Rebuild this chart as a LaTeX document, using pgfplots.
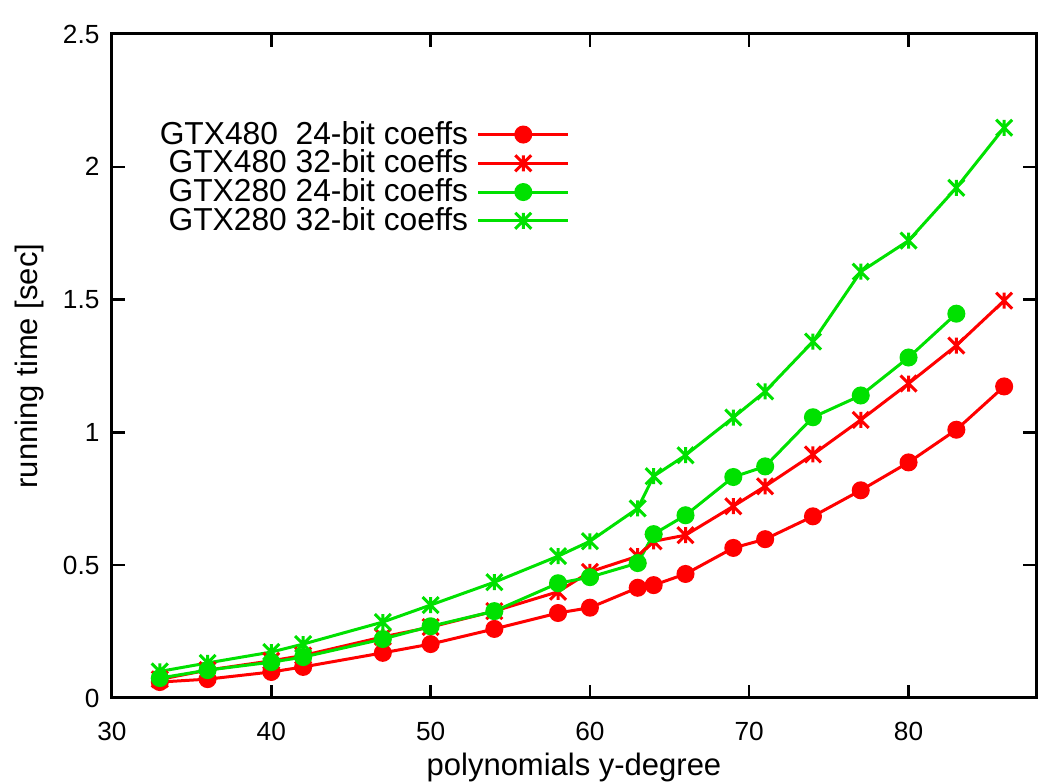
\documentclass[border=0pt]{standalone}
\usepackage{fontspec}
\setmainfont{Liberation Sans}
\usepackage{pgfplots}
\pgfplotsset{compat=1.18}

\definecolor{gpred}{RGB}{255,0,0}
\definecolor{gpgreen}{RGB}{0,225,0}

% gnuplot-like star: vertical bar plus an X
\pgfdeclareplotmark{gpstar}{%
  \pgfpathmoveto{\pgfqpoint{0pt}{\pgfplotmarksize}}%
  \pgfpathlineto{\pgfqpoint{0pt}{-\pgfplotmarksize}}%
  \pgfpathmoveto{\pgfqpoint{-\pgfplotmarksize}{-\pgfplotmarksize}}%
  \pgfpathlineto{\pgfqpoint{\pgfplotmarksize}{\pgfplotmarksize}}%
  \pgfpathmoveto{\pgfqpoint{-\pgfplotmarksize}{\pgfplotmarksize}}%
  \pgfpathlineto{\pgfqpoint{\pgfplotmarksize}{-\pgfplotmarksize}}%
  \pgfusepathqstroke}

\begin{document}
\begin{tikzpicture}
\begin{axis}[
    name=ax,
    scale only axis,
    width=369.6pt, height=265.6pt,
    xmin=30, xmax=88,
    ymin=0, ymax=2.5,
    xtick={30,40,50,60,70,80},
    ytick={0,0.5,1,1.5,2,2.5},
    yticklabels={0,0.5,1,1.5,2,2.5},
    tick align=inside,
    xtick pos=both, ytick pos=both,
    major tick length=5.2pt,
    every tick/.style={black, line width=1pt},
    axis line style={line width=1.2pt},
    /pgf/number format/assume math mode=true,
    tick label style={font=\fontsize{10.5}{12}\selectfont},
    xticklabel style={yshift=-6pt},
    yticklabel style={xshift=-1.5pt},
    label style={font=\fontsize{12.4}{14}\selectfont},
    xlabel={polynomials y-degree},
    ylabel={running time [sec]},
    xlabel style={at={(axis description cs:0.5,-0.104)}, anchor=center},
    ylabel style={at={(axis description cs:-0.089,0.5)}, anchor=center},
    legend plot pos=right,
    legend cell align=right,
    legend image code/.code={\draw[mark repeat=2,mark phase=2,#1] plot coordinates {(0pt,0pt) (18pt,0pt) (36pt,0pt)};},
    legend style={at={(rel axis cs:0.496,0.877)}, anchor=north east,
        draw=none, fill=none, inner sep=0pt, row sep=-3.2pt,
        font=\fontsize{12.7}{14}\selectfont,
        nodes={inner xsep=3.5pt}},
]
% GTX480 24-bit
\addplot[gpred, line width=1.2pt, mark=*, mark size=3pt] coordinates {
(33,0.060)(36,0.071)(40,0.098)(42,0.117)(47,0.170)(50,0.203)(54,0.260)
(58,0.320)(60,0.340)(63,0.415)(64,0.425)(66,0.467)(69,0.565)(71,0.598)
(74,0.684)(77,0.782)(80,0.887)(83,1.010)(86,1.173)};
\addlegendentry{GTX480\ \ 24-bit coeffs}
% GTX480 32-bit
\addplot[gpred, line width=1.2pt, mark=gpstar, mark size=3.2pt, mark options={line width=1.2pt}] coordinates {
(33,0.070)(36,0.105)(40,0.140)(42,0.160)(47,0.230)(50,0.267)(54,0.327)
(58,0.400)(60,0.475)(63,0.534)(64,0.590)(66,0.613)(69,0.722)(71,0.797)
(74,0.917)(77,1.047)(80,1.184)(83,1.327)(86,1.496)};
\addlegendentry{GTX480 32-bit coeffs}
% GTX280 24-bit
\addplot[gpgreen, line width=1.2pt, mark=*, mark size=3pt] coordinates {
(33,0.075)(36,0.105)(40,0.135)(42,0.154)(47,0.222)(50,0.270)(54,0.327)
(58,0.432)(60,0.455)(63,0.508)(64,0.617)(66,0.688)(69,0.832)(71,0.872)
(74,1.057)(77,1.139)(80,1.282)(83,1.447)};
\addlegendentry{GTX280 24-bit coeffs}
% GTX280 32-bit
\addplot[gpgreen, line width=1.2pt, mark=gpstar, mark size=3.2pt, mark options={line width=1.2pt}] coordinates {
(33,0.100)(36,0.132)(40,0.173)(42,0.203)(47,0.286)(50,0.350)(54,0.436)
(58,0.534)(60,0.590)(63,0.714)(64,0.835)(66,0.914)(69,1.056)(71,1.154)
(74,1.342)(77,1.605)(80,1.722)(83,1.921)(86,2.147)};
\addlegendentry{GTX280 32-bit coeffs}
\end{axis}
\pgfresetboundingbox
\path ([shift={(-44.8pt,-33.6pt)}]ax.south west) rectangle ([shift={(0.8pt,13.6pt)}]ax.north east);
\end{tikzpicture}
\end{document}
